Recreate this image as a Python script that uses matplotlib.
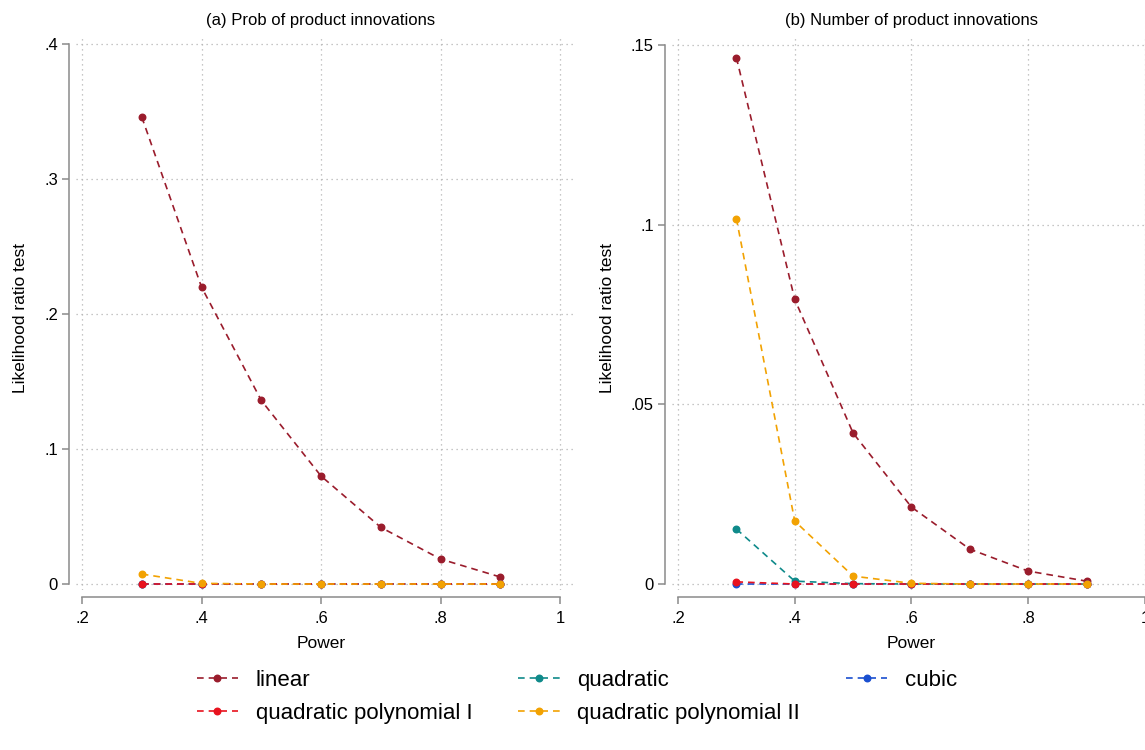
import matplotlib
matplotlib.use("Agg")
import matplotlib.pyplot as plt
from matplotlib.lines import Line2D

plt.rcParams['font.family'] = ['Liberation Sans', 'DejaVu Sans']

power = [0.3, 0.4, 0.5, 0.6, 0.7, 0.8, 0.9]

# (a) Prob of product innovations
linear_a = [0.346, 0.220, 0.136, 0.080, 0.042, 0.0185, 0.0052]
quadratic_a = [0.0, 0.0, 0.0, 0.0, 0.0, 0.0, 0.0]
cubic_a = [0.0, 0.0, 0.0, 0.0, 0.0, 0.0, 0.0]
quad_poly1_a = [0.0, 0.0, 0.0, 0.0, 0.0, 0.0, 0.0]
quad_poly2_a = [0.0074, 0.0005, 0.0, 0.0, 0.0, 0.0, 0.0]

# (b) Number of product innovations
linear_b = [0.1465, 0.0792, 0.042, 0.0214, 0.0097, 0.0036, 0.0008]
quadratic_b = [0.0153, 0.0008, 0.0001, 0.0, 0.0, 0.0, 0.0]
cubic_b = [0.0, 0.0, 0.0, 0.0, 0.0, 0.0, 0.0]
quad_poly1_b = [0.0006, 0.0, 0.0, 0.0, 0.0, 0.0, 0.0]
quad_poly2_b = [0.1017, 0.0175, 0.0022, 0.0002, 0.0, 0.0, 0.0]

names = ["linear", "quadratic", "cubic", "quadratic polynomial I", "quadratic polynomial II"]
colors = ["#9a1c2c", "#0f8a8a", "#1a4fd0", "#e8121e", "#f2a202"]

x_ticks = [0.2, 0.4, 0.6, 0.8, 1.0]
x_ticklabels = [".2", ".4", ".6", ".8", "1"]
y_ticks_a = [0, 0.1, 0.2, 0.3, 0.4]
y_ticklabels_a = ["0", ".1", ".2", ".3", ".4"]
y_ticks_b = [0, 0.05, 0.1, 0.15]
y_ticklabels_b = ["0", ".05", ".1", ".15"]

spine_col = "#8a8a8a"
dash = (0, (4, 3))


def style_axes(ax, yticks, yticklabels, title, xlim, ylim, ylab_x):
    ax.set_xlim(*xlim)
    ax.set_ylim(*ylim)
    ax.set_xticks(x_ticks)
    ax.set_xticklabels(x_ticklabels)
    ax.set_yticks(yticks)
    ax.set_yticklabels(yticklabels)
    for s in ["top", "right"]:
        ax.spines[s].set_visible(False)
    ax.spines["left"].set_position(("outward", 5))
    ax.spines["bottom"].set_position(("outward", 5))
    ax.spines["left"].set_bounds(yticks[0], yticks[-1])
    ax.spines["bottom"].set_bounds(x_ticks[0], x_ticks[-1])
    for s in ["left", "bottom"]:
        ax.spines[s].set_color(spine_col)
        ax.spines[s].set_linewidth(1.1)
    ax.tick_params(axis="both", direction="out", length=5, width=1.1,
                   color=spine_col, labelsize=12)
    ax.tick_params(axis="y", pad=3)
    ax.tick_params(axis="x", pad=5)
    ax.grid(True, linestyle=(0, (1, 3)), color="#b4b4b4", linewidth=0.9)
    ax.set_axisbelow(True)
    xc = (0.6 - xlim[0]) / (xlim[1] - xlim[0])
    ax.set_title(title, fontsize=12, x=xc, pad=8.5)
    ax.set_xlabel("Power", fontsize=12.5)
    ax.set_ylabel("Likelihood ratio test", fontsize=12.5)
    ax.xaxis.set_label_coords(xc, -0.083)
    ax.yaxis.set_label_coords(ylab_x, 0.492)


fig = plt.figure(figsize=(11.45, 7.5), dpi=100)
ax1 = fig.add_axes([0.0664, 0.2133, 0.4358, 0.7373])
ax2 = fig.add_axes([0.5869, 0.2133, 0.4253, 0.7373])

series_a = [linear_a, quadratic_a, cubic_a, quad_poly1_a, quad_poly2_a]
series_b = [linear_b, quadratic_b, cubic_b, quad_poly1_b, quad_poly2_b]

for ax, series in [(ax1, series_a), (ax2, series_b)]:
    for vals, col in zip(series, colors):
        ax.plot(power, vals, linestyle=dash, color=col, linewidth=1.2,
                marker="o", markersize=4.7, clip_on=False)

style_axes(ax1, y_ticks_a, y_ticklabels_a, "(a) Prob of product innovations",
           (0.19, 1.025), (-0.00444, 0.4052), -0.096)
style_axes(ax2, y_ticks_b, y_ticklabels_b, "(b) Number of product innovations",
           (0.1897, 1.024), (-0.00167, 0.1522), -0.117)

# legend filled column-wise, so reorder to read row-wise like the original
order = [0, 3, 1, 4, 2]
handles = [Line2D([], [], linestyle=dash, color=colors[i], linewidth=1.2,
                  marker="o", markersize=4.7) for i in order]
labels = [names[i] for i in order]
fig.legend(handles, labels, loc="center", bbox_to_anchor=(0.504, 0.071),
           ncol=3, frameon=False, fontsize=16, handlelength=1.85,
           handletextpad=0.8, columnspacing=2.07, labelspacing=0.55)

fig.savefig("out.png", dpi=100)
